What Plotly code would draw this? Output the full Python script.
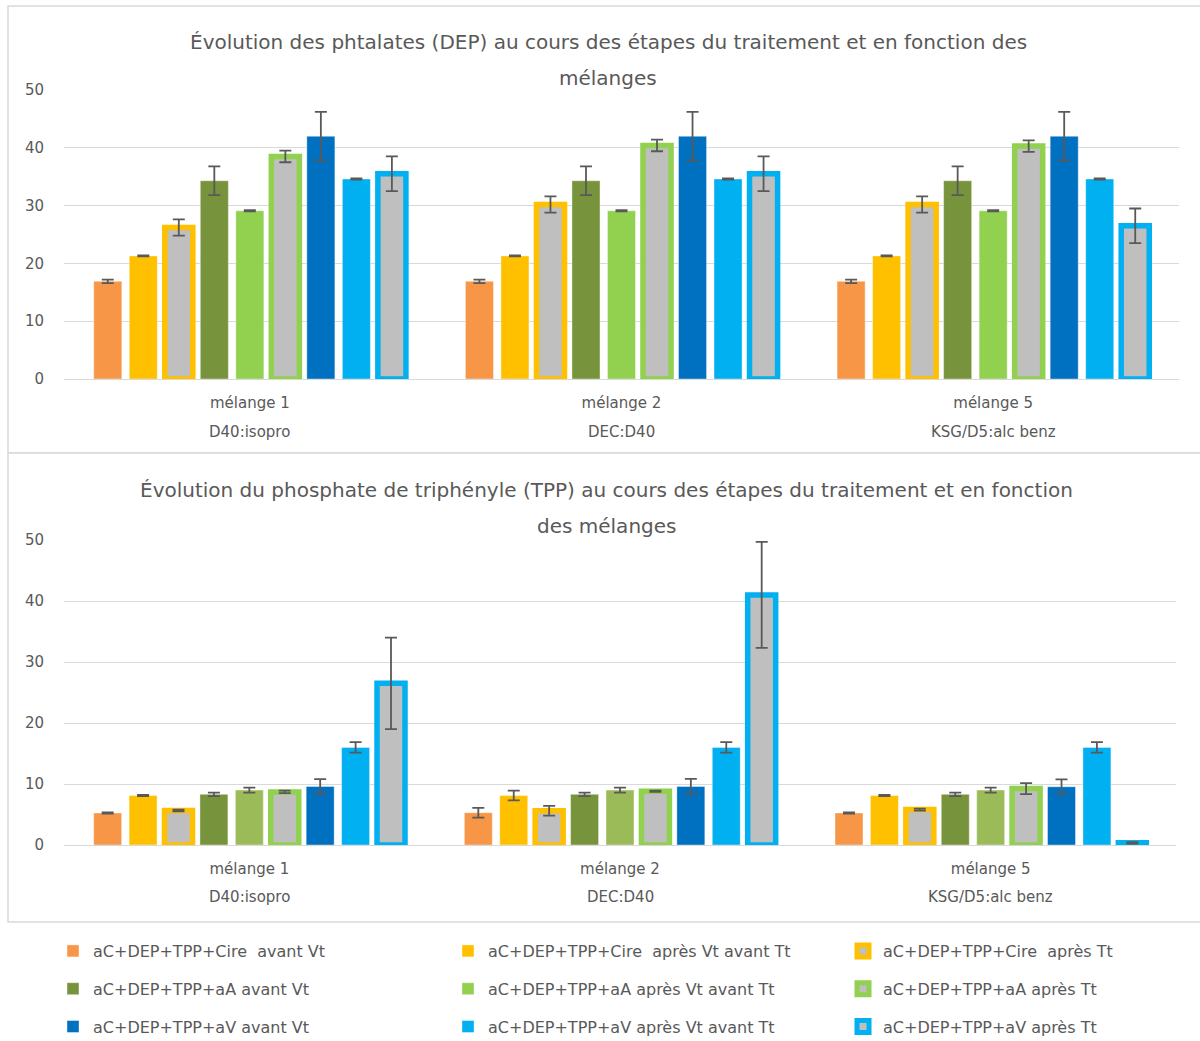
import plotly.graph_objects as go

# ---- data -----------------------------------------------------------------
groups = ["mélange 1", "mélange 2", "mélange 5"]
group_sub = ["D40:isopro", "DEC:D40", "KSG/D5:alc benz"]

series = [
    "aC+DEP+TPP+Cire\u00a0 avant Vt",
    "aC+DEP+TPP+Cire\u00a0 après Vt avant Tt",
    "aC+DEP+TPP+Cire\u00a0 après Tt",
    "aC+DEP+TPP+aA avant Vt",
    "aC+DEP+TPP+aA après Vt avant Tt",
    "aC+DEP+TPP+aA après Tt",
    "aC+DEP+TPP+aV avant Vt",
    "aC+DEP+TPP+aV après Vt avant Tt",
    "aC+DEP+TPP+aV après Tt",
]

# DEP (phtalates) per series, one value per mélange
dep_vals = [
    [16.9, 16.9, 16.9],
    [21.3, 21.3, 21.3],
    [26.2, 30.2, 30.2],
    [34.3, 34.3, 34.3],
    [29.1, 29.1, 29.1],
    [38.5, 40.4, 40.3],
    [42.0, 42.0, 42.0],
    [34.6, 34.6, 34.6],
    [35.5, 35.5, 26.5],
]
dep_err = [
    [0.3, 0.3, 0.3],
    [0.1, 0.1, 0.1],
    [1.4, 1.4, 1.4],
    [2.5, 2.5, 2.5],
    [0.1, 0.1, 0.1],
    [1.0, 1.0, 1.0],
    [4.2, 4.2, 4.2],
    [0.1, 0.1, 0.1],
    [3.0, 3.0, 3.0],
]

# TPP (phosphate de triphényle) per series
tpp_vals = [
    [5.25, 5.3, 5.25],
    [8.1, 8.1, 8.1],
    [5.65, 5.6, 5.8],
    [8.3, 8.3, 8.3],
    [9.0, 9.0, 9.0],
    [8.7, 8.8, 9.25],
    [9.6, 9.6, 9.55],
    [16.0, 16.0, 16.0],
    [26.5, 41.0, 0.35],
]
tpp_err = [
    [0.1, 0.8, 0.1],
    [0.1, 0.8, 0.1],
    [0.15, 0.8, 0.15],
    [0.3, 0.3, 0.3],
    [0.4, 0.4, 0.4],
    [0.2, 0.1, 0.9],
    [1.2, 1.25, 1.2],
    [0.85, 0.85, 0.85],
    [7.5, 8.7, 0.1],
]

# ---- styling --------------------------------------------------------------
W, H = 1200, 1041
FONT = "DejaVu Sans, Liberation Sans, Arial, sans-serif"
TXT = "#595959"
GRID = "#D9D9D9"
GRAY_FILL = "#BFBFBF"

colors_top = ["#F79646", "#FFC000", "#FFC000",
              "#77933C", "#92D050", "#92D050",
              "#0070C0", "#00B0F0", "#00B0F0"]
colors_bot = ["#F79646", "#FFC000", "#FFC000",
              "#77933C", "#9BBB59", "#92D050",
              "#0070C0", "#00B0F0", "#00B0F0"]
outlined = [False, False, True, False, False, True, False, False, True]


def px_x(p):
    return p / W


def px_y(p):
    return (H - p) / H


fig = go.Figure()


def add_chart(vals, errs, cols, xa, ya, show_legend):
    for i, name in enumerate(series):
        if outlined[i]:
            marker = dict(color=GRAY_FILL, line=dict(color=cols[i], width=5.5))
        else:
            marker = dict(color=cols[i], line=dict(color="rgba(255,255,255,0.5)", width=0.8))
        fig.add_trace(go.Bar(
            x=groups, y=vals[i], name=name,
            marker=marker,
            error_y=dict(type="data", array=errs[i], visible=True,
                         color=TXT, thickness=1.8, width=6),
            xaxis=xa, yaxis=ya,
            showlegend=show_legend,
            legend=["legend", "legend2", "legend3"][i % 3],
            legendgroup=f"g{i}",
        ))


add_chart(dep_vals, dep_err, colors_top, "x", "y", True)
add_chart(tpp_vals, tpp_err, colors_bot, "x2", "y2", False)

axis_font = dict(family=FONT, size=15, color=TXT)

xcommon = dict(type="category", showgrid=False, showline=False, zeroline=False,
               ticks="", tickfont=axis_font, ticklabelstandoff=13,
               fixedrange=True)
ycommon = dict(range=[0, 50], dtick=10, showgrid=True, gridcolor=GRID, gridwidth=1.4,
               zeroline=True, zerolinecolor=GRID, zerolinewidth=1.4,
               showline=False, ticks="", tickfont=axis_font, ticklabelstandoff=19,
               fixedrange=True)

fig.update_layout(
    width=W, height=H,
    margin=dict(l=0, r=0, t=0, b=0, autoexpand=False),
    paper_bgcolor="white", plot_bgcolor="rgba(0,0,0,0)",
    barmode="group", bargap=0.14, bargroupgap=0.21,
    font=dict(family=FONT, color=TXT),
    xaxis=dict(domain=[px_x(64), px_x(1179)], anchor="y", **xcommon),
    yaxis=dict(domain=[px_y(379), px_y(90)], anchor="x", **ycommon),
    xaxis2=dict(domain=[px_x(64), px_x(1176)], anchor="y2", **xcommon),
    yaxis2=dict(domain=[px_y(845), px_y(540)], anchor="x2", **ycommon),
)

# panel frames
panel_line = dict(color=GRID, width=1.5)
fig.add_shape(type="rect", xref="paper", yref="paper", layer="below",
              x0=px_x(8), x1=1.05, y0=px_y(453), y1=px_y(6),
              line=panel_line, fillcolor="white")
fig.add_shape(type="rect", xref="paper", yref="paper", layer="below",
              x0=px_x(8), x1=1.05, y0=px_y(922), y1=px_y(453),
              line=panel_line, fillcolor="white")

# chart titles (two lines each)
title_font = dict(family=FONT, size=20, color=TXT)
titles = [
    ("Évolution des phtalates (DEP) au cours des étapes du traitement et en fonction des", 608, 42),
    ("mélanges", 608, 78),
    ("Évolution du phosphate de triphényle (TPP) au cours des étapes du traitement et en fonction", 606, 490),
    ("des mélanges", 606, 526),
]
for text, cx, cy in titles:
    fig.add_annotation(text=text, xref="paper", yref="paper",
                       x=px_x(cx), y=px_y(cy), xanchor="center", yanchor="middle",
                       showarrow=False, font=title_font)

# second line of each category label
for xa, ypix in (("x", 432), ("x2", 897)):
    for g, sub in zip(groups, group_sub):
        fig.add_annotation(text=sub, xref=xa, yref="paper", x=g, y=px_y(ypix),
                           xanchor="center", yanchor="middle", showarrow=False,
                           font=axis_font)

# legend: three columns
leg_common = dict(orientation="v", yanchor="top", xanchor="left",
                  font=dict(family=FONT, size=16, color=TXT),
                  bgcolor="rgba(0,0,0,0)", tracegroupgap=14,
                  itemclick=False, itemdoubleclick=False)
fig.update_layout(
    legend=dict(x=px_x(53), y=px_y(934), **leg_common),
    legend2=dict(x=px_x(448), y=px_y(934), **leg_common),
    legend3=dict(x=px_x(843), y=px_y(934), **leg_common),
)

fig.write_html("out.html")
